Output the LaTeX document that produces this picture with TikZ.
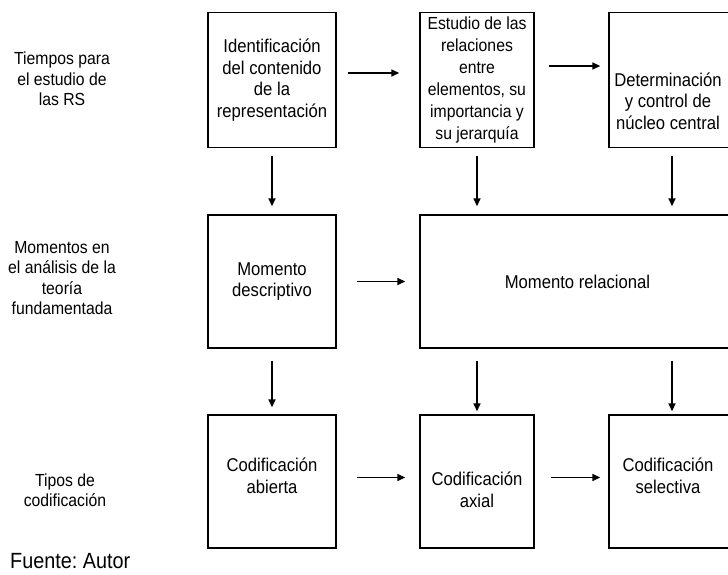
\documentclass[tikz,border=0pt]{standalone}
\usepackage{fontspec}
\setmainfont{Liberation Sans}[FakeStretch=0.9]
\usetikzlibrary{arrows.meta}
\frenchspacing

\tikzset{
  caja/.style={draw, line width=1.4pt, inner sep=0pt, align=center,
    font=\fontsize{18.5}{21.5}\selectfont},
  textocaja/.style={align=center, inner sep=0pt, font=\fontsize{18.5}{21.5}\selectfont},
  rotulo/.style={align=center, inner sep=0pt, font=\fontsize{17.5}{20.5}\selectfont},
  flecha/.style={-{Triangle[length=8pt,width=7pt]}, line width=1.5pt}
}

\begin{document}
\begin{tikzpicture}[x=1pt,y=-1pt]
			\useasboundingbox (0,0) rectangle (728,575);
			% Row labels on the left
			\node[rotulo] (tiempos) at (62,79) {Tiempos para\\el estudio de\\las RS};
			\node[rotulo] (momentos) at (62,278) {Momentos en\\el análisis de la\\teoría\\fundamentada};
			\node[rotulo] (tipos) at (65,490) {Tipos de\\codificación};
			\node[anchor=base west, inner sep=0pt, font=\fontsize{22}{24}\selectfont] (fuente) at (10,568) {Fuente: Autor};
			% First row: times for the study of RS
			\node[caja, minimum width=128, minimum height=135] (ident) at (272,80)
				{Identificación\\del contenido\\de la\\representación};
			\node[caja, minimum width=114, minimum height=135, font=\fontsize{17.5}{22}\selectfont] (estudio) at (477,80)
				{Estudio de las\\relaciones\\entre\\elementos, su\\importancia y\\su jerarquía};
			\node[caja, minimum width=126, minimum height=135] (deter) at (672,80) {};
			\node[textocaja] (deterT) at (668,101) {Determinación\\y control de\\núcleo central};
			% Second row: moments of the analysis
			\node[caja, minimum width=128, minimum height=133] (desc) at (272,281.5)
				{Momento\\descriptivo};
			\node[caja, minimum width=315, minimum height=133] (rel) at (577.5,281.5)
				{Momento relacional};
			% Third row: types of coding
			\node[caja, minimum width=128, minimum height=133] (abierta) at (272,481.5) {};
			\node[textocaja] (abiertaT) at (272,476) {Codificación\\abierta};
			\node[caja, minimum width=114, minimum height=133] (axial) at (477,481.5) {};
			\node[textocaja] (axialT) at (477,490) {Codificación\\axial};
			\node[caja, minimum width=126, minimum height=133] (selec) at (672,481.5) {};
			\node[textocaja] (selecT) at (668,476) {Codificación\\selectiva};
			% Horizontal arrows
			\draw[flecha, shorten <=11pt, shorten >=20pt] ([yshift=7pt]ident.east) -- ([yshift=7pt]ident.east -| estudio.west);
			\draw[flecha, shorten <=14pt, shorten >=8pt] ([yshift=14pt]estudio.east) -- ([yshift=14pt]estudio.east -| deter.west);
			\draw[flecha, shorten <=20pt, shorten >=14pt] (desc.east) -- (desc.east -| rel.west);
			\draw[flecha, shorten <=20pt, shorten >=14pt] ([yshift=4pt]abierta.east) -- ([yshift=4pt]abierta.east -| axial.west);
			\draw[flecha, shorten <=16pt, shorten >=8pt] ([yshift=4pt]axial.east) -- ([yshift=4pt]axial.east -| selec.west);
			% Vertical arrows
			\draw[flecha, shorten <=8pt, shorten >=8pt] (ident.south) -- (desc.north);
			\draw[flecha, shorten <=8pt, shorten >=8pt] (estudio.south) -- (estudio.south |- rel.north);
			\draw[flecha, shorten <=8pt, shorten >=8pt] (deter.south) -- (deter.south |- rel.north);
			\draw[flecha, shorten <=12pt, shorten >=7pt] (desc.south) -- (abierta.north);
			\draw[flecha, shorten <=12pt, shorten >=3pt] (rel.south -| axial.north) -- (axial.north);
			\draw[flecha, shorten <=12pt, shorten >=3pt] (rel.south -| selec.north) -- (selec.north);
\end{tikzpicture}
\end{document}
